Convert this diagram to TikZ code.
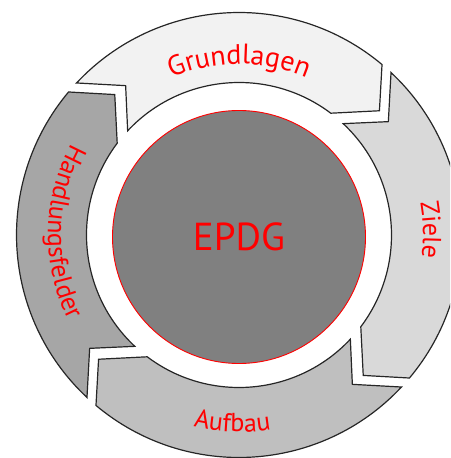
\documentclass[tikz,border=0pt]{standalone}
\usepackage{fontspec}
\setmainfont{PT Sans}
\usetikzlibrary{decorations.text}
\definecolor{segA}{HTML}{F2F2F2}
\definecolor{segB}{HTML}{D9D9D9}
\definecolor{segC}{HTML}{BFBFBF}
\definecolor{segD}{HTML}{A6A6A6}
\definecolor{coregray}{HTML}{808080}
\definecolor{labelred}{HTML}{FF0000}
\def\RadO{222.5}
\def\RadI{152.5}
\def\RadM{187.5}
% #1 tail angle, #2 head angle, #3 fill colour
\newcommand\ringseg[3]{%
  \draw[segline, fill=#3]
    ({#1}:\RadO) arc[start angle={#1}, end angle={#2-1.5}, radius=\RadO]
    -- ({#2-10}:\RadM)
    -- ({#2+1.5}:\RadI) arc[start angle={#2+1.5}, end angle={#1}, radius=\RadI]
    -- ({#1-9.7}:\RadM) -- cycle;}
\tikzset{
  segline/.style={draw=black!85, line width=1.2pt, line join=miter},
  corecircle/.style={circle, draw=labelred, line width=0.9pt, fill=coregray,
    minimum size=253pt, inner sep=0pt, text=labelred,
    font=\fontsize{39}{42}\selectfont},
}
\begin{document}
\begin{tikzpicture}[x=1pt, y=1pt]
\useasboundingbox (0,0) rectangle (450,458);
\clip (0,0) rectangle (450,458);
\begin{scope}[shift={(239,223)}]
  \ringseg{136.9}{51.5}{segA}
  \ringseg{46.9}{-38.5}{segB}
  \ringseg{-43.1}{-128.5}{segC}
  \ringseg{-133.1}{-218.5}{segD}
  \node[corecircle] (core) at (0,-2) {EPDG};
  % labels along the ring
  \path[decorate, decoration={text along path, text align=center,
      text color=labelred, text={|\fontsize{28}{30}\selectfont|Grundlagen}}]
    (130:171) arc[start angle=130, end angle=50, radius=171];
  \path[decorate, decoration={text along path, text align=center,
      text color=labelred, text={|\fontsize{26}{28}\selectfont|Ziele}}]
    (31.5:184) arc[start angle=31.5, end angle=-28.5, radius=184];
  \path[decorate, decoration={text along path, text align=center,
      text color=labelred, text={|\fontsize{26}{28}\selectfont|Aufbau}}]
    (-127:197) arc[start angle=-127, end angle=-57, radius=197];
  \path[decorate, decoration={text along path, text align=center,
      text color=labelred, text={|\fontsize{26}{28}\selectfont|Handlungsfelder}}]
    (119:191) arc[start angle=119, end angle=239, radius=191];
\end{scope}
\end{tikzpicture}
\end{document}
